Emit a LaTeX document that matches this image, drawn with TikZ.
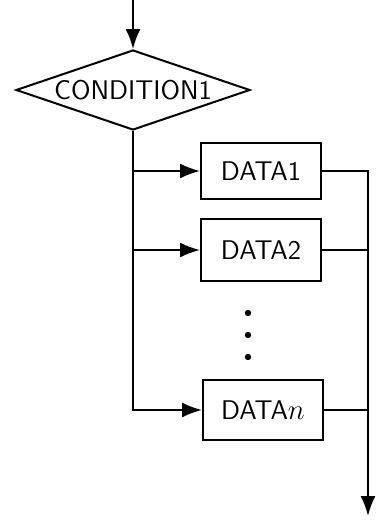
\documentclass[tikz,border=0pt]{standalone}
\usepackage{tikz}
\usetikzlibrary{shapes.geometric,arrows.meta}

\begin{document}
\begin{tikzpicture}[x=0.5pt, y=-0.5pt, line width=1pt, font=\sffamily\fontsize{13.5}{16}\selectfont,
  >={Latex[length=10pt,width=7.5pt]}]
\useasboundingbox (0,0) rectangle (379,520);

\node[draw, diamond, aspect=2.9, inner sep=0pt, minimum width=117pt, minimum height=40pt] (cond) at (133,90) {CONDITION1};
\coordinate (in) at (133,0);
\coordinate (out) at (368,516);

\node[draw, minimum width=60pt, minimum height=28pt] (data1) at (261,171) {DATA1};
\node[draw, minimum width=60pt, minimum height=31pt] (data2) at (261,250) {DATA2};
\node[draw, minimum width=60pt, minimum height=30pt] (datan) at (263,410) {DATA$n$};

% entry
\draw[->] (in) -- (cond.north);

% left bus, one branch per box
\draw[->] (cond.south) |- (datan.west);
\draw[->] (cond.south |- data1.west) -- (data1.west);
\draw[->] (cond.south |- data2.west) -- (data2.west);

% right bus to the exit
\draw[->] (data1.east) -| (out);
\draw (data2.east) -- (data2.east -| out);
\draw (datan.east) -- (datan.east -| out);

% dots between DATA2 and DATAn
\fill (248,313) circle (1.6pt);
\fill (248,335) circle (1.6pt);
\fill (248,357) circle (1.6pt);
\end{tikzpicture}
\end{document}
